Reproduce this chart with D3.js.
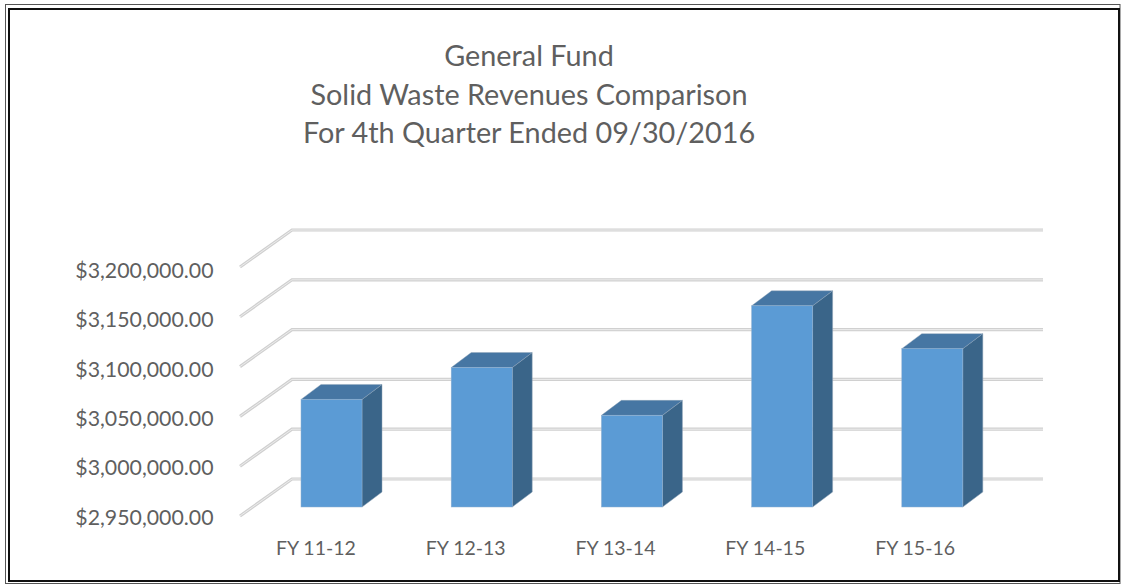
<!DOCTYPE html>
<html><head><meta charset="utf-8">
<script src="https://cdn.jsdelivr.net/npm/d3@7"></script>
<style>html,body{margin:0;padding:0;background:#fff;overflow:hidden}svg{display:block}</style>
</head><body><svg id="c" width="1121" height="585"></svg>
<script>
const titleLines = ["General Fund","Solid Waste Revenues Comparison","For 4th Quarter Ended 09/30/2016"];
const categories = ["FY 11-12","FY 12-13","FY 13-14","FY 14-15","FY 15-16"];
const revenues = [3058000,3090000,3042000,3152000,3109000];
const yTicks = [2950000,3000000,3050000,3100000,3150000,3200000];

const svg = d3.select("#c");
const font = "Lato,'Open Sans',sans-serif";
const depth = {x:52,y:-37};
const y = d3.scaleLinear().domain([2950000,3200000]).range([516,267]);
const yLabel = d3.scaleLinear().domain([2950000,3200000]).range([524.5,278]);
const x = d3.scaleBand().domain(categories).range([240,991]).paddingInner(0).paddingOuter(0);
const xLabel = d3.scaleBand().domain(categories).range([241,990]).paddingInner(0).paddingOuter(0);
const fmt = d3.format("$,.2f");

// frame
svg.append("rect").attr("x",5.5).attr("y",4.5).attr("width",1114.5).attr("height",579).attr("fill","none").attr("stroke","#555").attr("stroke-width",1);
svg.append("rect").attr("x",9).attr("y",9).attr("width",1110).attr("height",572).attr("fill","none").attr("stroke","#111").attr("stroke-width",2);

// title
svg.append("g").selectAll("text").data(titleLines).join("text")
  .attr("x",529).attr("y",(d,i)=>66+i*38.7).attr("text-anchor","middle")
  .attr("font-family",font).attr("font-size",28.8).attr("fill","#5f5f5f").text(d=>d);

// gridlines
const gridPath = t => {
  const p = d3.path();
  p.moveTo(x.range()[0],y(t));
  p.lineTo(x.range()[0]+depth.x,y(t)+depth.y);
  p.lineTo(x.range()[1]+depth.x,y(t)+depth.y);
  return p.toString();
};
const grid = svg.append("g").attr("fill","none");
grid.selectAll("path.o").data(yTicks).join("path").attr("class","o").attr("d",gridPath).attr("stroke","#d0d0d0").attr("stroke-width",3.2);
grid.selectAll("path.i").data(yTicks).join("path").attr("class","i").attr("d",gridPath).attr("stroke","#ececec").attr("stroke-width",1);

// y labels
svg.append("g").selectAll("text").data(yTicks).join("text")
  .attr("x",213.5).attr("y",d=>yLabel(d)).attr("text-anchor","end")
  .attr("font-family",font).attr("font-size",21.3).attr("fill","#5f5f5f").text(d=>fmt(d));

// x labels
svg.append("g").selectAll("text").data(categories).join("text")
  .attr("x",d=>xLabel(d)+xLabel.bandwidth()/2).attr("y",555).attr("text-anchor","middle")
  .attr("font-family",font).attr("font-size",19.5).attr("fill","#5f5f5f").text(d=>d);

// bars
const floorOff = {x:61,y:-9}, barW = 61, bd = {x:20,y:-15};
const base = y(yTicks[0]) + floorOff.y;
const data = categories.map((c,i)=>({c,v:revenues[i]}));
const bars = svg.append("g").selectAll("g").data(data).join("g")
  .attr("transform",d=>`translate(${x(d.c)+floorOff.x},0)`);
const topY = d => y(d.v) + floorOff.y;
bars.append("path").attr("fill","#3a6589").attr("stroke","#8fa3b6").attr("stroke-width",0.5)
  .attr("d",d=>`M${barW},${topY(d)}l${bd.x},${bd.y}V${base+bd.y}l${-bd.x},${-bd.y}Z`);
bars.append("path").attr("fill","#4676a3").attr("stroke","#8fa3b6").attr("stroke-width",0.4)
  .attr("d",d=>`M0,${topY(d)}l${bd.x},${bd.y}h${barW}l${-bd.x},${-bd.y}Z`);
bars.append("rect").attr("x",0).attr("y",d=>topY(d)).attr("width",barW).attr("height",d=>base-topY(d)).attr("fill","#5b9bd5").attr("stroke","#8fb0d0").attr("stroke-width",0.5);
</script></body></html>
